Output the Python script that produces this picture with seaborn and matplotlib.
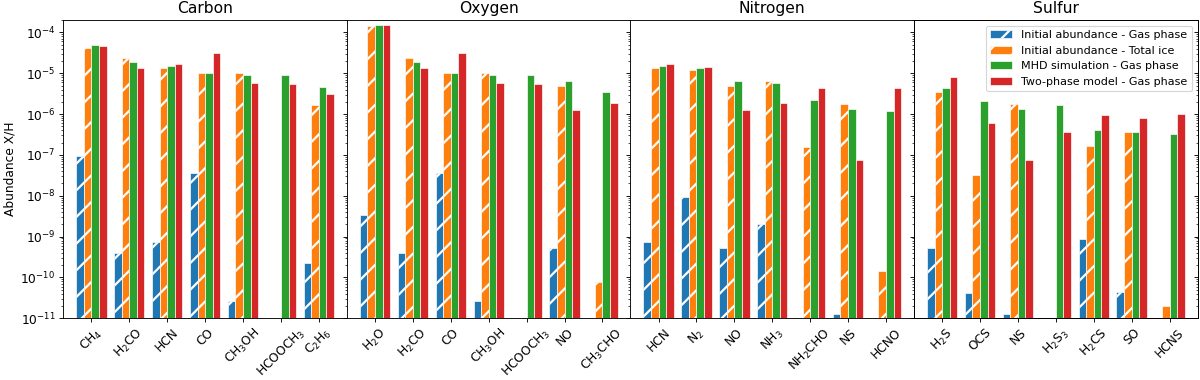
import numpy as np
import pandas as pd
import matplotlib.pyplot as plt
import seaborn as sns

plt.rcParams['hatch.linewidth'] = 2.0

series = ['Initial abundance - Gas phase', 'Initial abundance - Total ice',
          'MHD simulation - Gas phase', 'Two-phase model - Gas phase']
colors = ['tab:blue', 'tab:orange', 'tab:green', 'tab:red']
nan = np.nan

# Carbon
carbon_mol = ['CH$_4$', 'H$_2$CO', 'HCN', 'CO', 'CH$_3$OH', 'HCOOCH$_3$', 'C$_2$H$_6$']
carbon_gas = [9.5e-8, 3.9e-10, 7.3e-10, 3.7e-8, 2.6e-11, nan, 2.2e-10]
carbon_ice = [4.1e-5, 2.3e-5, 1.38e-5, 1.04e-5, 1.04e-5, nan, 1.7e-6]
carbon_mhd = [5.0e-5, 1.9e-5, 1.47e-5, 1.04e-5, 9.1e-6, 9.1e-6, 4.5e-6]
carbon_two = [4.6e-5, 1.38e-5, 1.72e-5, 3.07e-5, 5.7e-6, 5.4e-6, 3.1e-6]

# Oxygen
oxygen_mol = ['H$_2$O', 'H$_2$CO', 'CO', 'CH$_3$OH', 'HCOOCH$_3$', 'NO', 'CH$_3$CHO']
oxygen_gas = [3.3e-9, 3.9e-10, 3.7e-8, 2.6e-11, nan, 5.4e-10, nan]
oxygen_ice = [1.4e-4, 2.3e-5, 1.04e-5, 1.04e-5, nan, 5.0e-6, 7.8e-11]
oxygen_mhd = [1.5e-4, 1.9e-5, 1.04e-5, 9.1e-6, 9.1e-6, 6.6e-6, 3.4e-6]
oxygen_two = [1.5e-4, 1.38e-5, 3.07e-5, 5.7e-6, 5.4e-6, 1.29e-6, 1.85e-6]

# Nitrogen
nitrogen_mol = ['HCN', 'N$_2$', 'NO', 'NH$_3$', 'NH$_2$CHO', 'NS', 'HCNO']
nitrogen_gas = [7.3e-10, 9.3e-9, 5.4e-10, 2.0e-9, nan, 1.3e-11, nan]
nitrogen_ice = [1.38e-5, 1.2e-5, 5.0e-6, 6.3e-6, 1.6e-7, 1.8e-6, 1.4e-10]
nitrogen_mhd = [1.47e-5, 1.35e-5, 6.6e-6, 5.7e-6, 2.2e-6, 1.32e-6, 1.17e-6]
nitrogen_two = [1.72e-5, 1.45e-5, 1.29e-6, 1.9e-6, 4.4e-6, 7.4e-8, 4.4e-6]

# Sulfur
sulfur_mol = ['H$_2$S', 'OCS', 'NS', 'H$_2$S$_3$', 'H$_2$CS', 'SO', 'HCNS']
sulfur_gas = [5.4e-10, 4.1e-11, 1.3e-11, nan, 8.8e-10, 4.3e-11, nan]
sulfur_ice = [3.4e-6, 3.2e-8, 1.8e-6, nan, 1.68e-7, 3.55e-7, 2.0e-11]
sulfur_mhd = [4.4e-6, 2.15e-6, 1.32e-6, 1.7e-6, 4.1e-7, 3.55e-7, 3.3e-7]
sulfur_two = [7.9e-6, 5.9e-7, 7.4e-8, 3.55e-7, 9.3e-7, 8.1e-7, 1.02e-6]

panels = [
    ('Carbon', carbon_mol, [carbon_gas, carbon_ice, carbon_mhd, carbon_two]),
    ('Oxygen', oxygen_mol, [oxygen_gas, oxygen_ice, oxygen_mhd, oxygen_two]),
    ('Nitrogen', nitrogen_mol, [nitrogen_gas, nitrogen_ice, nitrogen_mhd, nitrogen_two]),
    ('Sulfur', sulfur_mol, [sulfur_gas, sulfur_ice, sulfur_mhd, sulfur_two]),
]

fig, axes = plt.subplots(1, 4, figsize=(15, 4.75), dpi=80, sharey=True)
fig.subplots_adjust(left=0.0528, right=0.998, bottom=0.1624, top=0.947, wspace=0)

for i, (title, mols, vals) in enumerate(panels):
    ax = axes[i]
    rows = []
    for name, v in zip(series, vals):
        for m, y in zip(mols, v):
            rows.append({'molecule': m, 'series': name, 'value': y})
    df = pd.DataFrame(rows)

    sns.barplot(data=df, x='molecule', y='value', hue='series', order=mols,
                hue_order=series, palette=colors, saturation=1, errorbar=None,
                edgecolor='white', linewidth=0.6, legend=False, ax=ax)

    # hatch the initial abundance bars
    for c in ax.containers[:2]:
        for p in c.patches:
            p.set_hatch('/')

    ax.set_yscale('log')
    ax.set_ylim(1e-11, 2e-4)
    ax.set_xlim(-0.74, len(mols) - 0.26)
    ax.set_title(title, fontsize=14)
    ax.set_xlabel('')
    ax.set_ylabel('')
    ax.tick_params(axis='x', rotation=45, labelsize=11)
    ax.tick_params(axis='y', labelsize=11)

    if i == 3:
        ax.legend(handles=ax.containers, labels=series, loc='upper right')
        axr = ax.twinx()
        axr.set_yscale('log')
        axr.set_ylim(1e-11, 2e-4)
        axr.tick_params(which='both', direction='in', labelright=False)

axes[0].set_ylabel('Abundance X/H', fontsize=11)

plt.savefig('out.png')
